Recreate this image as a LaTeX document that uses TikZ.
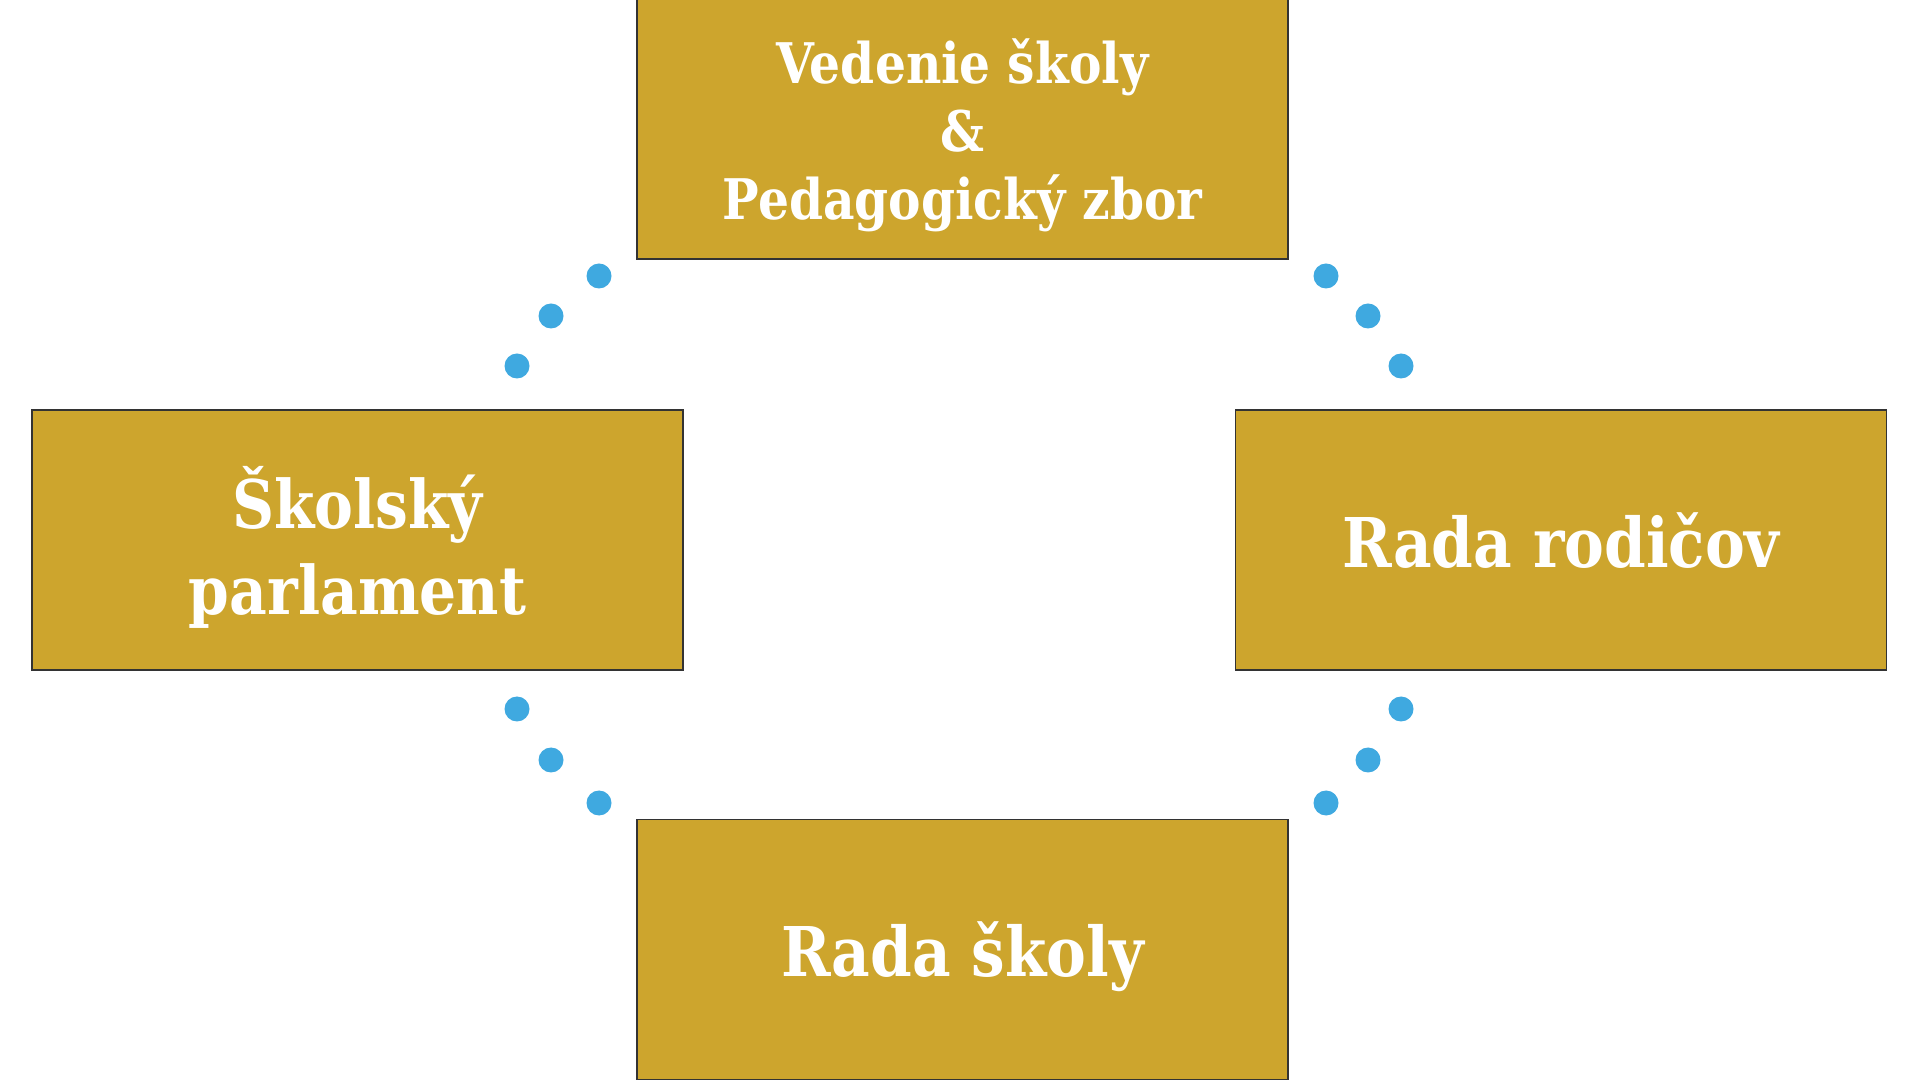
\documentclass[tikz,border=0pt]{standalone}
\usepackage{fontspec}
\setmainfont{DejaVu Serif}[FakeStretch=0.87]
\usetikzlibrary{positioning}
\definecolor{boxgold}{HTML}{CDA52D}
\definecolor{dotblue}{HTML}{3FA9E0}

\tikzset{
  council/.style={draw=black!80, line width=1.2pt, fill=boxgold, text=white,
    minimum width=651pt, minimum height=260pt, inner sep=0pt, align=center,
    text depth=0pt},
  bigname/.style={font=\bfseries\fontsize{68.6}{84}\selectfont},
  twoline/.style={font=\bfseries\fontsize{67}{86}\selectfont},
  threeline/.style={font=\bfseries\fontsize{56}{68}\selectfont},
  linkdot/.style={fill=dotblue, draw=none}
}

\begin{document}
\begin{tikzpicture}[x=1pt, y=1pt]
        \useasboundingbox (0,0) rectangle (1920,1080);
        \node[council, threeline] (vedenie) at (962.5,951){Vedenie školy\\\&\\Pedagogický zbor};
        \node[council, twoline] (parlament) at (357.5,540){Školský\\parlament};
        \node[council, bigname] (rodicia) at (1561,540){Rada rodičov};
        \node[council, bigname] (rada) at (962.5,130.5){Rada školy};
        % dots between the boxes
        \foreach \px/\py in {599/804, 551/764, 517/714, 1326/804, 1368/764, 1401/714,
                             517/371, 551/320, 599/277, 1401/371, 1368/320, 1326/277}
            \fill[linkdot, radius=12.5] (\px,\py) circle;
    \end{tikzpicture}
\end{document}
